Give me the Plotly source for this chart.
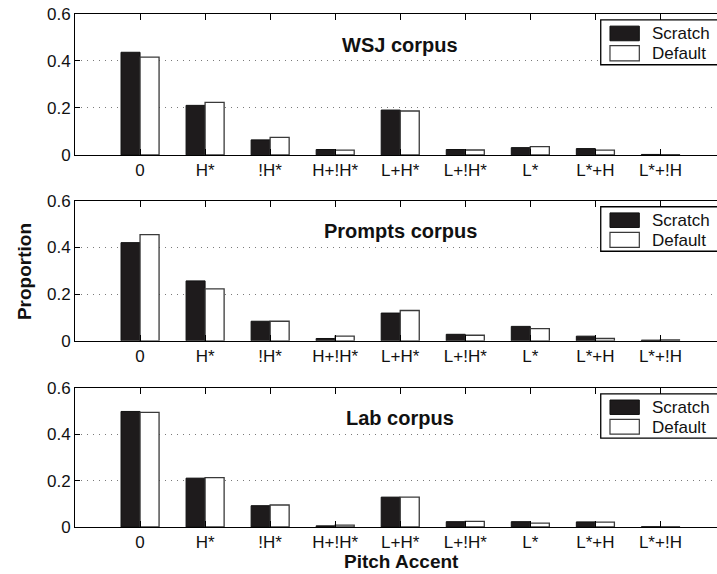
import plotly.graph_objects as go

categories = ["0", "H*", "!H*", "H+!H*", "L+H*", "L+!H*", "L*", "L*+H", "L*+!H"]
corpora = ["WSJ corpus", "Prompts corpus", "Lab corpus"]

wsj_scratch = [0.437, 0.211, 0.064, 0.023, 0.191, 0.023, 0.031, 0.027, 0.002]
wsj_default = [0.416, 0.224, 0.075, 0.020, 0.187, 0.021, 0.035, 0.020, 0.001]

prompts_scratch = [0.421, 0.257, 0.084, 0.010, 0.119, 0.028, 0.062, 0.020, 0.003]
prompts_default = [0.455, 0.223, 0.084, 0.020, 0.130, 0.024, 0.052, 0.010, 0.004]

lab_scratch = [0.499, 0.211, 0.092, 0.005, 0.129, 0.023, 0.023, 0.022, 0.001]
lab_default = [0.495, 0.213, 0.095, 0.008, 0.129, 0.024, 0.017, 0.021, 0.001]

series_names = ["Scratch", "Default"]
y_ticks = [0, 0.2, 0.4, 0.6]
y_tick_text = ["0", "0.2", "0.4", "0.6"]

FONT = "Liberation Sans, Arial, Helvetica, sans-serif"
BLACK = "#1e1b1c"

panels = [
    (wsj_scratch, wsj_default),
    (prompts_scratch, prompts_default),
    (lab_scratch, lab_default),
]

domains = [[0.7253, 1.0], [0.3629, 0.6357], [0.0, 0.2708]]

fig = go.Figure()
layout = dict(
    width=717, height=574,
    margin=dict(l=75, r=0, t=14, b=47),
    paper_bgcolor="white", plot_bgcolor="white",
    template="none",
    barmode="group", bargap=0.415, bargroupgap=0,
    font=dict(family=FONT, size=17, color="black"),
    showlegend=False,
    annotations=[], shapes=[],
)

# legend geometry (fractions of each panel's domain)
LX0, LX1 = 0.8189, 1.05
SW0, SW1 = 0.8333, 0.879
TXT_X = 0.8956
BOX_T, BOX_B = 0.958, 0.640
S1_T, S1_B = 0.914, 0.810
S2_T, S2_B = 0.775, 0.668
T1_Y, T2_Y = 0.862, 0.718

for i, (scr, dft) in enumerate(panels):
    n = i + 1
    xa = "x" if n == 1 else f"x{n}"
    ya = "y" if n == 1 else f"y{n}"
    fig.add_trace(go.Bar(
        x=categories, y=scr, name=series_names[0], xaxis=xa, yaxis=ya,
        marker=dict(color=BLACK, line=dict(color="#111111", width=1)),
    ))
    fig.add_trace(go.Bar(
        x=categories, y=dft, name=series_names[1], xaxis=xa, yaxis=ya,
        marker=dict(color="white", line=dict(color="#3a3a3a", width=1.3)),
    ))
    xkey = "xaxis" if n == 1 else f"xaxis{n}"
    ykey = "yaxis" if n == 1 else f"yaxis{n}"
    layout[xkey] = dict(
        domain=[0, 1], anchor=ya, range=[-1, 8.87],
        type="category", categoryorder="array", categoryarray=categories,
        showline=True, linecolor="black", linewidth=1, mirror="ticks",
        ticks="inside", ticklen=6, tickcolor="black", showgrid=False,
        tickfont=dict(size=17, family=FONT, color="#111"),
        automargin=False, fixedrange=True, zeroline=False,
    )
    layout[ykey] = dict(
        domain=domains[i], anchor=xa, range=[0, 0.6],
        tickvals=y_ticks, ticktext=y_tick_text,
        showline=True, linecolor="black", linewidth=1, mirror=True,
        ticks="inside", ticklen=5, tickcolor="black",
        showgrid=True, gridcolor="#7a7a7a", griddash="1px,5px", gridwidth=1,
        zeroline=False,
        tickfont=dict(size=17, family=FONT, color="#111"),
        automargin=False, fixedrange=True,
    )
    xd = f"{xa} domain"
    yd = f"{ya} domain"
    # corpus title
    layout["annotations"].append(dict(
        text="<b>" + corpora[i] + "</b>", x="L+H*", y=0.47, xref=xa, yref=ya,
        showarrow=False, xanchor="center", yanchor="middle",
        font=dict(size=20, family=FONT, color="#111"),
    ))
    # legend box
    layout["shapes"].append(dict(
        type="rect", xref=xd, yref=yd, x0=LX0, x1=LX1, y0=BOX_B, y1=BOX_T,
        line=dict(color="black", width=1.3), fillcolor="white", layer="above",
    ))
    layout["shapes"].append(dict(
        type="rect", xref=xd, yref=yd, x0=SW0, x1=SW1, y0=S1_B, y1=S1_T,
        line=dict(color="#111", width=1), fillcolor=BLACK, layer="above",
    ))
    layout["shapes"].append(dict(
        type="rect", xref=xd, yref=yd, x0=SW0, x1=SW1, y0=S2_B, y1=S2_T,
        line=dict(color="#3a3a3a", width=1.2), fillcolor="white", layer="above",
    ))
    for name, ty in zip(series_names, [T1_Y, T2_Y]):
        layout["annotations"].append(dict(
            text=name, x=TXT_X, y=ty, xref=xd, yref=yd,
            showarrow=False, xanchor="left", yanchor="middle",
            font=dict(size=17, family=FONT, color="#111"),
        ))

layout["annotations"].append(dict(
    text="<b>Proportion</b>", x=-0.0794, y=0.497, xref="paper", yref="paper",
    textangle=-90, showarrow=False, xanchor="center", yanchor="middle",
    font=dict(size=19, family=FONT, color="#111"),
))
layout["annotations"].append(dict(
    text="<b>Pitch Accent</b>", x=0.508, y=-0.0676, xref="paper", yref="paper",
    showarrow=False, xanchor="center", yanchor="middle",
    font=dict(size=19, family=FONT, color="#111"),
))

fig.update_layout(**layout)
fig.write_html("out.html", config={"displayModeBar": False},
               post_script="document.body.style.margin='0px';")
